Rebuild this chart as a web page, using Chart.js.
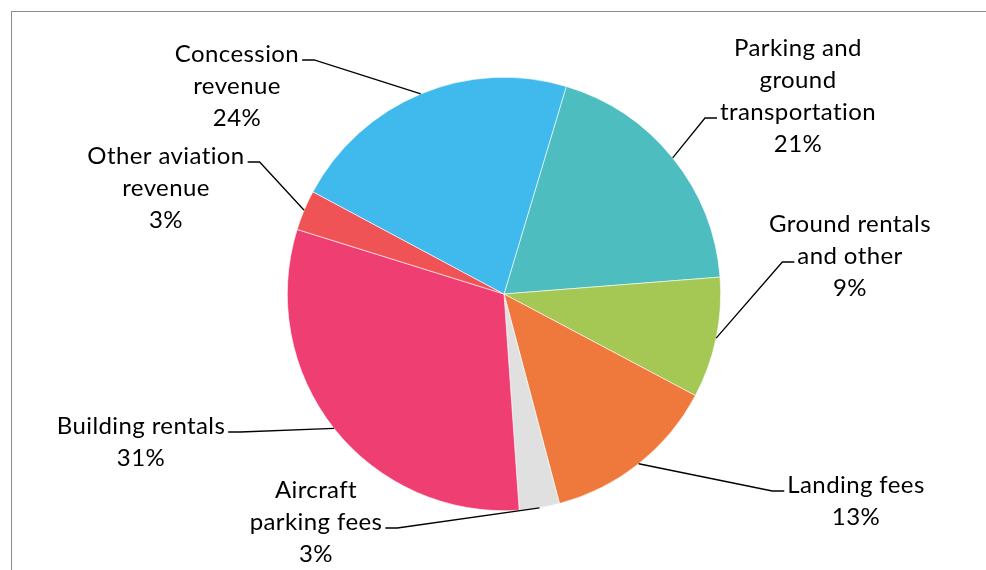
<!DOCTYPE html>
<html>
<head>
<meta charset="utf-8">
<script src="https://cdn.jsdelivr.net/npm/chart.js@4"></script>
<style>
html,body{margin:0;padding:0;background:#fff;}
#wrap{position:relative;width:986px;height:570px;}
</style>
</head>
<body>
<div id="wrap"><canvas id="c" width="986" height="570"></canvas></div>
<script>
// ---- data ----
const categories = ["Parking and ground transportation","Ground rentals and other","Landing fees","Aircraft parking fees","Building rentals","Other aviation revenue","Concession revenue"];
const values = [19.1, 9.0, 13.1, 3.0, 30.9, 3.0, 21.8];
const percentLabels = ["21%","9%","13%","3%","31%","3%","24%"];
const labelLines = [
  ["Parking and","ground","transportation"],
  ["Ground rentals","and other"],
  ["Landing fees"],
  ["Aircraft","parking fees"],
  ["Building rentals"],
  ["Other aviation","revenue"],
  ["Concession","revenue"]
];
const colors = ["#4DBDC0","#A5C855","#EF783D","#E0E0E0","#EF3F72","#EF5356","#40B9EC"];

// ---- label layout (offsets from pie centre, px) ----
// [textCenterDx, firstLineDy, attachLineIndex, side]
const labelLayout = [
  [294, -246, 2, "left"],
  [346, -70, 1, "left"],
  [352, 191, 0, "left"],
  [-188, 196, 1, "right"],
  [-363, 132, 0, "right"],
  [-338, -138, 0, "right"],
  [-267, -240, 0, "right"]
];

const FONT = "24px Lato";
const LINE_H = 32;

const framePlugin = {
  id: 'frame',
  beforeDraw(chart){
    const ctx = chart.ctx;
    ctx.save();
    ctx.strokeStyle = '#8c8c8c';
    ctx.lineWidth = 1;
    ctx.strokeRect(11.5, 11.5, 990, 580);
    ctx.restore();
  }
};

const labelPlugin = {
  id: 'leaderLabels',
  afterDatasetsDraw(chart){
    const ctx = chart.ctx;
    const meta = chart.getDatasetMeta(0);
    ctx.save();
    ctx.font = FONT;
    try { ctx.letterSpacing = '0.4px'; } catch(e) {}
    ctx.fillStyle = '#000';
    ctx.textAlign = 'center';
    ctx.textBaseline = 'middle';
    meta.data.forEach((arc, i) => {
      const p = arc.getProps(['x','y','startAngle','endAngle','outerRadius'], true);
      const mid = (p.startAngle + p.endAngle) / 2;
      const ex = p.x + Math.cos(mid) * p.outerRadius;
      const ey = p.y + Math.sin(mid) * p.outerRadius;
      const [dx, dy, att, side] = labelLayout[i];
      const tx = p.x + dx;
      const lines = labelLines[i].concat([percentLabels[i]]);
      lines.forEach((ln, k) => {
        ctx.fillText(ln, tx, p.y + dy + k * LINE_H);
      });
      const w = ctx.measureText(labelLines[i][att]).width;
      const ay = p.y + dy + att * LINE_H + 6;
      let ax, bx;
      if (side === 'left') { ax = tx - w/2 - 3; bx = ax - 12; }
      else { ax = tx + w/2 + 3; bx = ax + 12; }
      ctx.beginPath();
      ctx.strokeStyle = '#000';
      ctx.lineWidth = 1.3;
      ctx.moveTo(ax, ay);
      ctx.lineTo(bx, ay);
      ctx.lineTo(ex, ey);
      ctx.stroke();
    });
    ctx.restore();
  }
};

new Chart(document.getElementById('c'), {
  type: 'pie',
  data: {
    labels: categories,
    datasets: [{
      data: values,
      backgroundColor: colors,
      borderColor: '#ffffff',
      borderWidth: 0.6
    }]
  },
  options: {
    responsive: false,
    animation: false,
    rotation: 16.7,
    layout: { padding: { left: 287, right: 265, top: 77, bottom: 59 } },
    plugins: {
      legend: { display: false },
      tooltip: { enabled: false }
    }
  },
  plugins: [framePlugin, labelPlugin]
});
</script>
</body>
</html>
